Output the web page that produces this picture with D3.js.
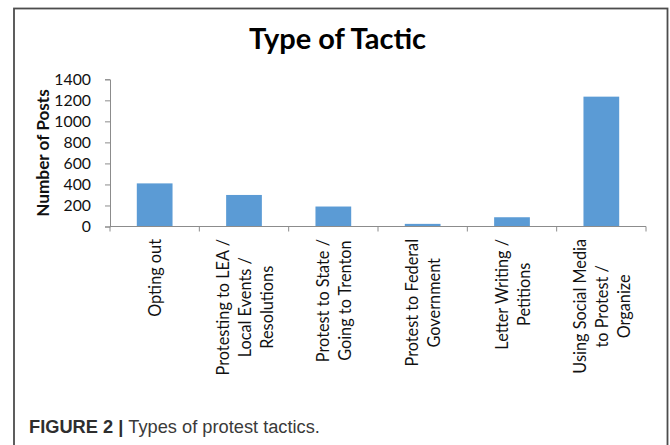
<!DOCTYPE html>
<html>
<head>
<meta charset="utf-8">
<script src="https://cdn.jsdelivr.net/npm/d3@7"></script>
<style>
  html, body { margin: 0; padding: 0; background: #fff; }
  svg { display: block; }
</style>
</head>
<body>
<svg id="chart" width="670" height="445"></svg>
<script>
// Tactic categories and the number of posts in each
const categories = ["Opting out", "Protesting to LEA", "Protest to State", "Protest to Federal", "Letter Writing", "Using Social Media"];
const posts = [410, 300, 190, 25, 88, 1235];
// Wrapped axis labels, one list of lines per category
const labelLines = [
  ["Opting out"],
  ["Protesting to LEA /", "Local Events /", "Resolutions"],
  ["Protest to State /", "Going to Trenton"],
  ["Protest to Federal", "Government"],
  ["Letter Writing /", "Petitions"],
  ["Using Social Media", "to Protest /", "Organize"]
];
const yTicks = [0, 200, 400, 600, 800, 1000, 1200, 1400];

const svg = d3.select("#chart");
const font = "Lato, 'Open Sans', sans-serif";

// figure frame
svg.append("rect")
  .attr("x", 14).attr("y", 8.5)
  .attr("width", 653.5).attr("height", 460)
  .attr("fill", "none").attr("stroke", "#4d4d4d").attr("stroke-width", 1.8);

const x = d3.scaleBand().domain(categories).range([110, 646])
  .paddingInner(0.6).paddingOuter(0.3);
const y = d3.scaleLinear().domain([0, 1400]).range([226.5, 79.3]);

// title
svg.append("text")
  .attr("x", 337.5).attr("y", 48.5)
  .attr("text-anchor", "middle")
  .attr("font-family", font).attr("font-weight", 700).attr("font-size", 29)
  .attr("fill", "#000")
  .text("Type of Tactic");

// bars
svg.append("g").selectAll("rect")
  .data(categories)
  .join("rect")
  .attr("x", d => x(d))
  .attr("width", x.bandwidth())
  .attr("y", (d, i) => y(posts[i]))
  .attr("height", (d, i) => y(0) - y(posts[i]))
  .attr("fill", "#5B9BD5");

// y axis
const yAxis = svg.append("g")
  .attr("transform", `translate(${x.range()[0]},0)`)
  .call(d3.axisLeft(y).tickValues(yTicks).tickSize(5).tickPadding(14).tickFormat(d3.format("d")));
yAxis.select(".domain").attr("stroke", "#8c8c8c");
yAxis.selectAll(".tick line").attr("stroke", "#8c8c8c");
yAxis.selectAll(".tick text")
  .attr("font-family", font).attr("font-size", 15.8).attr("fill", "#111");

// x axis line with ticks at the category boundaries
const step = x.step();
const x0 = x.range()[0];
const boundaries = d3.range(categories.length + 1).map(i => x0 + i * step);
svg.append("line")
  .attr("x1", x0).attr("x2", x.range()[1])
  .attr("y1", y(0)).attr("y2", y(0))
  .attr("stroke", "#8c8c8c");
svg.append("g").selectAll("line")
  .data(boundaries)
  .join("line")
  .attr("x1", d => d).attr("x2", d => d)
  .attr("y1", y(0)).attr("y2", y(0) + 5)
  .attr("stroke", "#8c8c8c");

// rotated category labels, lines centred on the longest one
const lh = 22;
const gap = 12.5;
const labels = svg.append("g").selectAll("g")
  .data(categories)
  .join("g");
labels.each(function (d, i) {
  const g = d3.select(this);
  const lines = labelLines[i];
  const texts = g.selectAll("text")
    .data(lines)
    .join("text")
    .attr("font-family", font).attr("font-size", 16.3).attr("fill", "#111")
    .attr("text-anchor", "middle")
    .attr("dominant-baseline", "central")
    .text(t => t);
  let maxLen = 0;
  texts.each(function () { maxLen = Math.max(maxLen, this.getComputedTextLength()); });
  const cx = x(d) + x.bandwidth() / 2;
  g.attr("transform", `translate(${cx},${y(0) + gap + maxLen / 2}) rotate(-90)`);
  texts.attr("x", 0).attr("y", (t, j) => (j - (lines.length - 1) / 2) * lh);
});

// y axis title
svg.append("text")
  .attr("transform", `translate(42,153) rotate(-90)`)
  .attr("text-anchor", "middle")
  .attr("dominant-baseline", "central")
  .attr("font-family", font).attr("font-weight", 700).attr("font-size", 17.2)
  .attr("fill", "#111")
  .text("Number of Posts");

// figure caption, sized to span its column width
const cap = svg.append("text")
  .attr("x", 29).attr("y", 433)
  .attr("font-family", "'Liberation Sans Narrow', 'Arial Narrow', 'Liberation Sans', sans-serif")
  .attr("font-size", 17).attr("fill", "#3a3a3a");
cap.append("tspan").attr("font-weight", 700).attr("fill", "#2e2e2e").text("FIGURE 2 | ");
cap.append("tspan").text("Types of protest tactics.");
const capLen = cap.node().getComputedTextLength();
cap.attr("font-size", 17 * 291 / capLen);
</script>
</body>
</html>
